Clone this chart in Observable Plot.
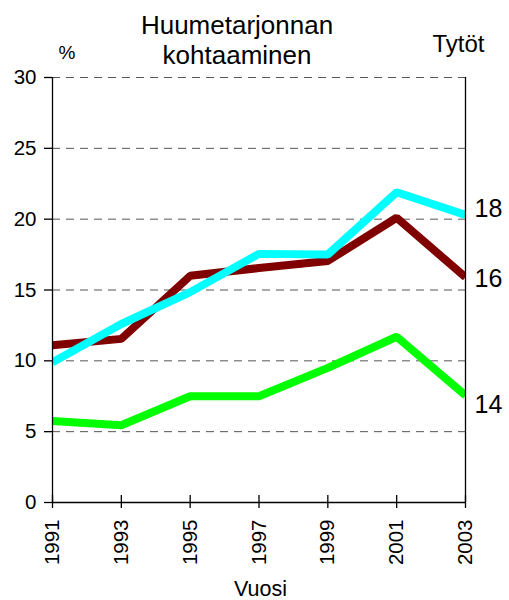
<!DOCTYPE html>
<html>
<head>
<meta charset="utf-8">
<script src="https://cdn.jsdelivr.net/npm/d3@7"></script>
<script src="https://cdn.jsdelivr.net/npm/@observablehq/plot@0.6"></script>
<style>
  html, body { margin: 0; padding: 0; background: #fff; }
  #chart svg { display: block; }
</style>
</head>
<body>
<div id="chart"></div>
<script>
const years = [1991, 1993, 1995, 1997, 1999, 2001, 2003];
const age18 = [9.9, 12.6, 14.85, 17.55, 17.5, 21.9, 20.3];   // cyan
const age16 = [11.1, 11.55, 16.0, 16.55, 17.05, 20.1, 15.9]; // dark red
const age14 = [5.75, 5.45, 7.5, 7.5, 9.5, 11.7, 7.55];       // green
const seriesNames = ["16", "14", "18"];
const seriesColors = ["#800000", "#00ff00", "#00ffff"];
const seriesValues = [age16, age14, age18];
const endLabels = ["18", "16", "14"];
const endLabelY = [20.7, 15.75, 6.9];
const yTicks = [0, 5, 10, 15, 20, 25, 30];
const gridTicks = [5, 10, 15, 20, 25, 30];
const titleText = "Huumetarjonnan\nkohtaaminen";
const unitText = "%";
const groupText = "Tytöt";
const xLabel = "Vuosi";

const rows = seriesNames.flatMap((s, i) => years.map((yr, j) => ({series: s, year: yr, value: seriesValues[i][j]})));
const font = "'Liberation Sans', Arial, sans-serif";

const lineMarks = seriesNames.map((s, i) =>
  Plot.line(rows.filter(r => r.series === s), {
    x: "year", y: "value", stroke: seriesColors[i], strokeWidth: 8,
    strokeLinejoin: "miter", strokeLinecap: "butt", clip: true
  })
);

const chart = Plot.plot({
  width: 509,
  height: 600,
  marginLeft: 52,
  marginRight: 44,
  marginTop: 77,
  marginBottom: 98,
  style: {background: "#fff", color: "#000", fontFamily: font},
  x: {domain: [1991, 2003]},
  y: {domain: [0, 30]},
  marks: [
    Plot.ruleY(gridTicks, {stroke: "#555", strokeDasharray: "8,6", strokeWidth: 1}),
    Plot.axisY({ticks: yTicks, tickSize: 8, tickPadding: 8, fontSize: 20.5, label: null, tickFormat: d => String(d), strokeWidth: 1.3}),
    Plot.axisX({ticks: years, tickSize: 6, tickPadding: 11, fontSize: 20.5, tickRotate: -90, label: null, tickFormat: d => String(d), strokeWidth: 1.3}),
    Plot.axisX({ticks: years, tickSize: -7, label: null, tickFormat: () => "", strokeWidth: 1.3}),
    ...lineMarks,
    Plot.ruleX([1991, 2003], {stroke: "#000", strokeWidth: 1.3}),
    Plot.ruleY([0], {stroke: "#000", strokeWidth: 1.3}),
    Plot.text(endLabels, {x: () => 2003, y: (d, i) => endLabelY[i], text: d => d, textAnchor: "start", dx: 9, fontSize: 25, fill: "#000"}),
    Plot.text([titleText], {frameAnchor: "top-left", dx: 184.5, dy: -38, textAnchor: "middle", lineAnchor: "middle", lineHeight: 1.16, fontSize: 26, fill: "#000"}),
    Plot.text([unitText], {frameAnchor: "top-left", dx: 14.5, dy: -25, textAnchor: "middle", lineAnchor: "middle", fontSize: 19, fill: "#000"}),
    Plot.text([groupText], {frameAnchor: "top-left", dx: 406, dy: -33, textAnchor: "middle", lineAnchor: "middle", fontSize: 24, fill: "#000"}),
    Plot.text([xLabel], {frameAnchor: "bottom-left", dx: 208, dy: 87, textAnchor: "middle", lineAnchor: "middle", fontSize: 21.5, fill: "#000"})
  ]
});
document.getElementById("chart").appendChild(chart);
</script>
</body>
</html>
